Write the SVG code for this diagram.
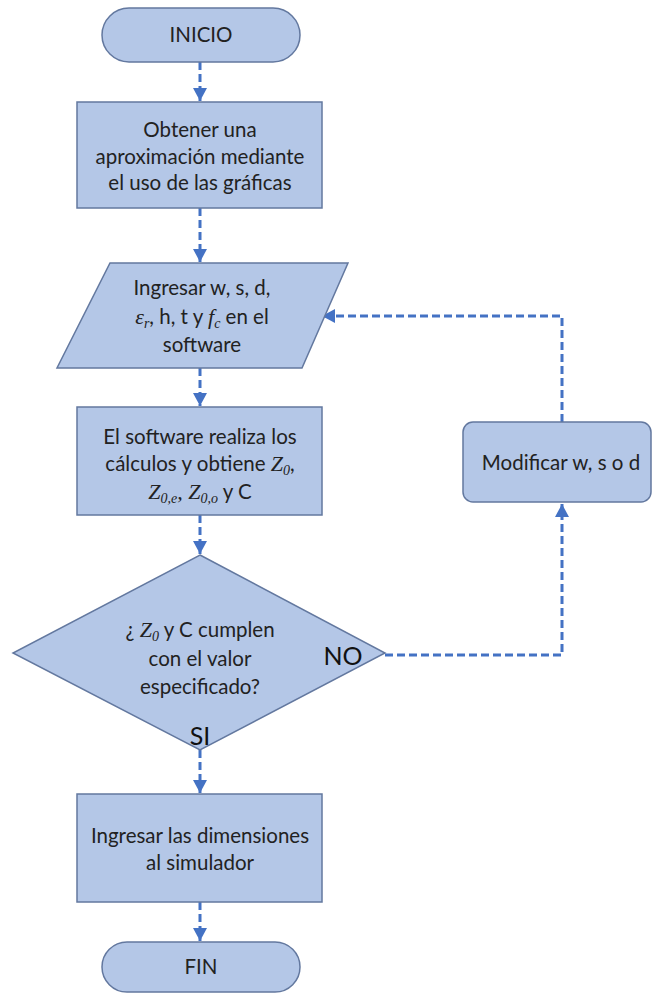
<svg xmlns="http://www.w3.org/2000/svg" width="652" height="993" viewBox="0 0 652 993">
<defs>
<style>
.shape{fill:#b4c7e7;stroke:#63789f;stroke-width:1.5}
.t{font-family:Lato,"Open Sans","Liberation Sans",sans-serif;font-size:20.5px;fill:#222;text-anchor:middle}
.m{font-family:"Liberation Serif","DejaVu Serif",serif;font-style:italic;font-size:22px}
.s{font-family:"Liberation Serif","DejaVu Serif",serif;font-style:italic;font-size:14px}
.lbl{font-family:Lato,"Open Sans","Liberation Sans",sans-serif;font-size:25px;fill:#111;text-anchor:middle}
.c{fill:none;stroke:#4472c4;stroke-width:3;stroke-dasharray:8 4;marker-end:url(#ah)}
</style>
<marker id="ah" markerUnits="userSpaceOnUse" markerWidth="16" markerHeight="16" refX="13" refY="7" orient="auto">
<path d="M0,0 L13,7 L0,14 Z" fill="#4472c4"/>
</marker>
</defs>
<g id="connectors">
<path class="c" d="M200,62 V101"/>
<path class="c" d="M200,208 V262"/>
<path class="c" d="M200,368 V406"/>
<path class="c" d="M200,515 V554"/>
<path class="c" d="M200,750 V793"/>
<path class="c" d="M200,902 V941"/>
<path class="c" d="M385,655 H562 V504"/>
<path class="c" d="M562,422 V316 H322"/>
</g>
<g id="inicio">
<rect class="shape" x="102" y="8" width="198" height="54" rx="27"/>
<text class="t" x="201" y="42">INICIO</text>
</g>
<g id="aproximacion">
<rect class="shape" x="77" y="102" width="245" height="106"/>
<text class="t" x="200" y="137">Obtener una</text>
<text class="t" x="200" y="164">aproximación mediante</text>
<text class="t" x="200" y="190">el uso de las gráficas</text>
</g>
<g id="ingresar">
<polygon class="shape" points="110,263 348,263 302,368 57,368"/>
<text class="t" x="202" y="295">Ingresar w, s, d,</text>
<text class="t" x="202" y="324"><tspan class="m">ε</tspan><tspan class="s" dy="4">r</tspan><tspan dy="-4">, h, t y </tspan><tspan class="m">f</tspan><tspan class="s" dy="4">c</tspan><tspan dy="-4"> en el</tspan></text>
<text class="t" x="202" y="352">software</text>
</g>
<g id="software">
<rect class="shape" x="77" y="407" width="245" height="108"/>
<text class="t" x="200" y="444">El software realiza los</text>
<text class="t" x="200" y="471">cálculos y  obtiene <tspan class="m">Z</tspan><tspan class="s" dy="4">0</tspan><tspan dy="-4">,</tspan></text>
<text class="t" x="200" y="499"><tspan class="m">Z</tspan><tspan class="s" dy="4">0,e</tspan><tspan class="m" dy="-4">, Z</tspan><tspan class="s" dy="4">0,o</tspan><tspan dy="-4"> y C</tspan></text>
</g>
<g id="decision">
<polygon class="shape" points="200,555 385,653 200,750 13,653"/>
<text class="t" x="200" y="637">¿ <tspan class="m">Z</tspan><tspan class="s" dy="4">0</tspan><tspan dy="-4"> y C cumplen</tspan></text>
<text class="t" x="200" y="666">con el valor</text>
<text class="t" x="200" y="694">especificado?</text>
<text class="lbl" x="343" y="665">NO</text>
<text class="lbl" x="200" y="745">SI</text>
</g>
<g id="modificar">
<rect class="shape" x="463" y="422" width="188" height="80" rx="10"/>
<text class="t" x="561" y="470">Modificar w, s o d</text>
</g>
<g id="dimensiones">
<rect class="shape" x="77" y="794" width="245" height="108"/>
<text class="t" x="200" y="843">Ingresar las dimensiones</text>
<text class="t" x="200" y="870">al simulador</text>
</g>
<g id="fin">
<rect class="shape" x="102" y="942" width="198" height="50" rx="25"/>
<text class="t" x="201" y="974">FIN</text>
</g>
</svg>
